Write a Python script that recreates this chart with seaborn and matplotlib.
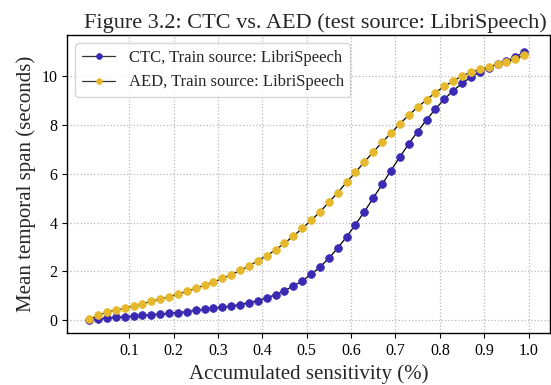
import numpy as np
import pandas as pd
import matplotlib
matplotlib.use("Agg")
import matplotlib.pyplot as plt
import seaborn as sns

# ---- data ----
sensitivity = [0.01, 0.03, 0.05, 0.07, 0.09, 0.11, 0.13, 0.15, 0.17, 0.19,
               0.21, 0.23, 0.25, 0.27, 0.29, 0.31, 0.33, 0.35, 0.37, 0.39,
               0.41, 0.43, 0.45, 0.47, 0.49, 0.51, 0.53, 0.55, 0.57, 0.59,
               0.61, 0.63, 0.65, 0.67, 0.69, 0.71, 0.73, 0.75, 0.77, 0.79,
               0.81, 0.83, 0.85, 0.87, 0.89, 0.91, 0.93, 0.95, 0.97, 0.99]

ctc_span = [0.02, 0.05, 0.08, 0.11, 0.14, 0.16, 0.19, 0.22, 0.25, 0.28,
            0.31, 0.35, 0.40, 0.45, 0.49, 0.53, 0.58, 0.64, 0.71, 0.80,
            0.92, 1.04, 1.21, 1.40, 1.61, 1.88, 2.18, 2.54, 2.96, 3.42,
            3.92, 4.45, 5.01, 5.57, 6.14, 6.70, 7.23, 7.74, 8.22, 8.66,
            9.07, 9.41, 9.72, 9.97, 10.18, 10.35, 10.51, 10.63, 10.79, 11.00]

aed_span = [0.03, 0.19, 0.33, 0.41, 0.49, 0.58, 0.67, 0.77, 0.86, 0.96,
            1.07, 1.18, 1.30, 1.43, 1.56, 1.71, 1.86, 2.04, 2.22, 2.44,
            2.64, 2.89, 3.15, 3.45, 3.76, 4.09, 4.44, 4.84, 5.23, 5.66,
            6.07, 6.49, 6.90, 7.30, 7.67, 8.06, 8.41, 8.74, 9.04, 9.34,
            9.59, 9.81, 10.02, 10.17, 10.29, 10.39, 10.50, 10.59, 10.70, 10.89]

series_labels = ["CTC, Train source: LibriSpeech", "AED, Train source: LibriSpeech"]
series_colors = ["#3a2ab3", "#e6b82c"]
x_ticks = [0.1, 0.2, 0.3, 0.4, 0.5, 0.6, 0.7, 0.8, 0.9, 1.0]
y_ticks = [0, 2, 4, 6, 8, 10]

# ---- style ----
sns.set_style("ticks")
plt.rcParams["font.family"] = ["Liberation Serif", "DejaVu Serif"]

fig = plt.figure(figsize=(5.51, 3.85), dpi=100)
ax = fig.add_axes([0.1216, 0.135, 0.8764, 0.774])

for ys, lab, col in zip([ctc_span, aed_span], series_labels, series_colors):
    df = pd.DataFrame({"x": sensitivity, "y": ys})
    sns.lineplot(data=df, x="x", y="y", ax=ax, color="black", linewidth=0.9,
                 marker="o", markersize=5.6, markerfacecolor=col,
                 markeredgecolor=col, markeredgewidth=0.5, label=lab)

ax.set_xlim(-0.04, 1.048)
ax.set_ylim(-0.53, 11.7)
ax.set_xticks(x_ticks)
ax.set_yticks(y_ticks)
ax.set_xticklabels([f"{t:.1f}" for t in x_ticks])
ax.tick_params(axis="both", labelsize=11.5, direction="out", length=3.5,
               width=0.8, colors="black")
ax.grid(True, linestyle=":", color="#b8b8b8", linewidth=0.9)
for s in ax.spines.values():
    s.set_visible(True)
    s.set_color("black")
    s.set_linewidth(1.0)

ax.set_xlabel("Accumulated sensitivity (%)", fontsize=15)
ax.set_ylabel("Mean temporal span (seconds)", fontsize=15)
ax.set_title("Figure 3.2: CTC vs. AED (test source: LibriSpeech)", fontsize=16,
             pad=5, x=0.514)

leg = ax.legend(loc="upper left", fontsize=12, frameon=True, markerscale=0.75,
                borderaxespad=0.5, handlelength=2.0)
leg.get_frame().set_edgecolor("#cccccc")
for h in leg.get_lines():
    h.set_color("#333333")

fig.savefig("out.png", dpi=100)
